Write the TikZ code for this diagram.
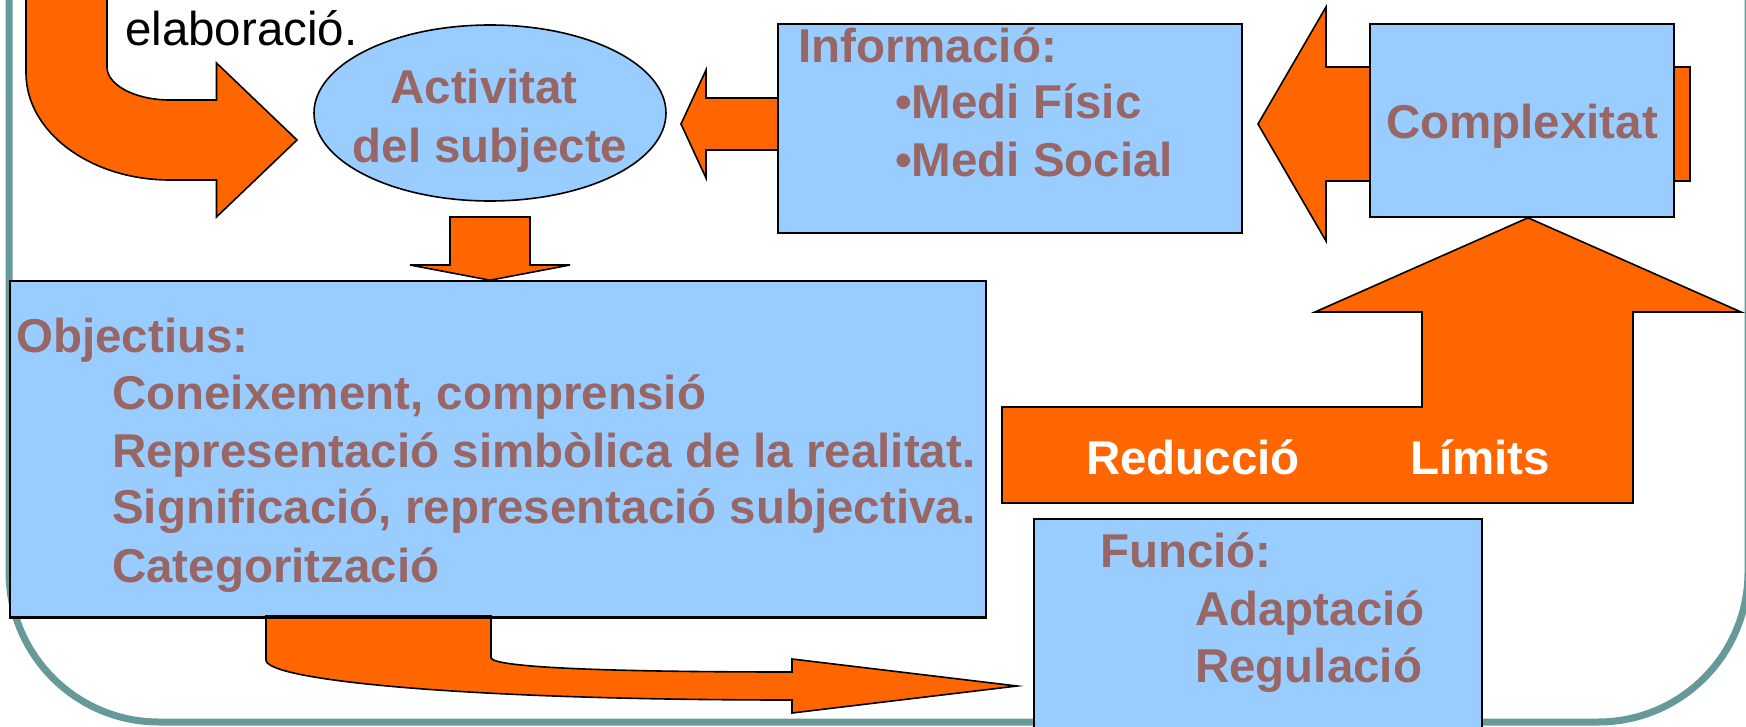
\documentclass[tikz,border=0pt]{standalone}
\usepackage{fontspec}
\setmainfont{Liberation Sans}
\usetikzlibrary{shapes.geometric}
\definecolor{orng}{HTML}{FF6600}
\definecolor{lblue}{HTML}{99CCFF}
\definecolor{brn}{HTML}{996666}
\definecolor{tealb}{HTML}{669999}
\tikzset{
  blockarrow/.style={fill=orng, draw=black, line width=1.6pt, line join=miter},
  bluebox/.style={rectangle, fill=lblue, draw=black, line width=1.6pt, inner sep=0pt},
  btxt/.style={anchor=base west, inner sep=0pt, text=brn, font=\fontsize{47.5}{57}\selectfont\bfseries},
  ctxt/.style={anchor=base, inner sep=0pt, text=brn, font=\fontsize{47.5}{57}\selectfont\bfseries},
  wtxt/.style={anchor=base west, inner sep=0pt, text=white, font=\fontsize{47.5}{57}\selectfont\bfseries},
  ktxt/.style={anchor=base west, inner sep=0pt, text=black, font=\fontsize{47.5}{57}\selectfont}
}
\begin{document}
\begin{tikzpicture}[x=1pt,y=-1pt]
\useasboundingbox (0,0) rectangle (1746,726);
\fill[white] (0,0) rectangle (1746,726);
\begin{scope}
\clip (0,0) rectangle (1746,726);
% frame
\draw[tealb, line width=7pt, rounded corners=150pt] (9,-300) -- (9,722) -- (1748,722) -- (1748,-300);

% top-left curved arrow
\draw[blockarrow] (26,-10) -- (26,73) .. controls (26,132) and (90.5,180) .. (170,180)
  -- (216.5,180) -- (216.5,217) -- (297,140) -- (216.5,63) -- (216.5,100) -- (170,100)
  .. controls (135,100) and (107,85) .. (107,67) -- (107,-10) -- cycle;
\node[ktxt] (elab) at (125,45) {elaboració.};

% ellipse
\node[ellipse, fill=lblue, draw=black, line width=1.6pt, minimum width=352pt, minimum height=176pt, inner sep=0pt] (act) at (490,113) {};
\node[ctxt] (act1) at (484,103) {Activitat};
\node[ctxt] (act2) at (490,162) {del subjecte};

% arrow info -> activitat
\draw[blockarrow] (790,98) -- (706,98) -- (706,70) -- (681,124) -- (706,178) -- (706,150) -- (790,150) -- cycle;
\node[bluebox, minimum width=464pt, minimum height=209pt] (info) at (1010,128.5) {};
\node[btxt] (info0) at (798,62) {Informació:};
\node[btxt] (info1) at (895,118) {•Medi Físic};
\node[btxt] (info2) at (895,176) {•Medi Social};

% big arrow complexitat -> info
\draw[blockarrow] (1690,67) -- (1326,67) -- (1326,7) -- (1258,124) -- (1326,241) -- (1326,181) -- (1690,181) -- cycle;
\node[bluebox, minimum width=304pt, minimum height=193pt] (cplx) at (1522,120.5) {};
\node[ctxt] (cplxt) at (1522,138) {Complexitat};

% down arrow
\node[bluebox, minimum width=976pt, minimum height=336pt] (obj) at (498,449) {};
\draw[blockarrow] (450,217) -- (530,217) -- (530,265) -- (570,265) -- (obj.north -| act.center) -- (410,265) -- (450,265) -- cycle;
\node[btxt] (obj0) at (16,352) {Objectius:};
\node[btxt] (obj1) at (112,409) {Coneixement, comprensió};
\node[btxt] (obj2) at (112,467) {Representació simbòlica de la realitat.};
\node[btxt] (obj3) at (112,523) {Significació, representació subjectiva.};
\node[btxt] (obj4) at (112,582) {Categorització};

% up arrow
\draw[blockarrow] (1002,407) -- (1422,407) -- (1422,312) -- (1315,312) -- ([xshift=6pt]cplx.south) -- (1741,312) -- (1633,312) -- (1633,503) -- (1002,503) -- cycle;
\node[wtxt] (red) at (1086,474) {Reducció};
\node[wtxt] (lim) at (1410,474) {Límits};

% bottom curved arrow
\draw[blockarrow] (266,616) -- (266,660) .. controls (266,680) and (460,700) .. (792,700)
  -- (792,713) -- (1017,686) -- (792,659) -- (792,672)
  .. controls (620,672) and (495,668) .. (491,658) -- (491,616) -- cycle;
\draw[black, line width=1.6pt] (obj.south west) -- (obj.south east);

% funcio box
\node[bluebox, minimum width=448pt, minimum height=241pt] (func) at (1258,639.5) {};
\node[btxt] (func0) at (1100,567) {Funció:};
\node[btxt] (func1) at (1195,625) {Adaptació};
\node[btxt] (func2) at (1195,682) {Regulació};
\end{scope}
\end{tikzpicture}
\end{document}
